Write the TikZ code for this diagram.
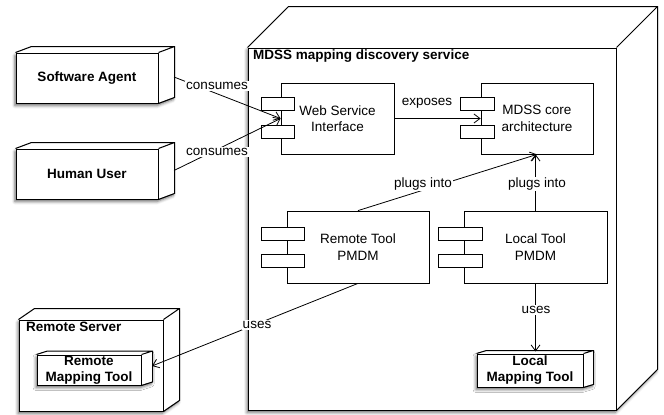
\documentclass[tikz,border=0pt]{standalone}
\usepackage{fontspec}
\setmainfont{Liberation Sans}
\usetikzlibrary{arrows.meta,shadows.blur,calc}

\tikzset{
  every node/.style={font=\fontsize{13.5}{16.5}\selectfont},
  cubefront/.style={draw, fill=white, line width=1pt, align=center, inner sep=0pt,
    font=\bfseries\fontsize{13.5}{16}\selectfont},
  cubeline/.style={line width=1pt, line join=miter},
  comp/.style={draw, fill=white, line width=0.8pt, align=center, inner sep=0pt},
  port/.style={draw, fill=white, line width=0.8pt, inner sep=0pt},
  lbl/.style={fill=white, inner sep=1pt},
  ttl/.style={anchor=west, inner sep=0pt, font=\bfseries\fontsize{13.5}{16}\selectfont},
  conn/.style={line width=0.8pt, -{Straight Barb[length=6pt,width=9pt]}},
  shad/.style={blur shadow={shadow xshift=-1pt, shadow yshift=-2.5pt,
    shadow blur radius=3pt, shadow opacity=60}}
}

% #1 name, #2 x, #3 y, #4 w, #5 h, #6 dx, #7 dy, #8 text
\newcommand\cubebox[8]{%
  \fill[white, shad] ({#2-#4/2},{#3+#5/2}) -- ({#2-#4/2},{#3-#5/2})
    -- ({#2-#4/2+#6},{#3-#5/2-#7}) -- ({#2+#4/2+#6},{#3-#5/2-#7})
    -- ({#2+#4/2+#6},{#3+#5/2-#7}) -- ({#2+#4/2},{#3+#5/2}) -- cycle;
  \node[cubefront, minimum width=#4pt, minimum height=#5pt] (#1) at (#2,#3) {#8};
  \draw[cubeline] (#1.north west) -- ++(#6,-#7) -- ([shift={(#6,-#7)}]#1.north east)
    -- ([shift={(#6,-#7)}]#1.south east) -- (#1.south east)
    (#1.north east) -- ++(#6,-#7);
}

\begin{document}
\begin{tikzpicture}[x=1pt, y=-1pt]
\useasboundingbox (0,0) rectangle (664,415);

% outer actors
\cubebox{sa}{87}{78}{142}{50}{16}{6}{Software Agent}
\cubebox{hu}{87}{174}{142}{50}{16}{6}{Human User}

% remote server
\cubebox{rs}{91}{365.5}{144}{91}{16}{11}{}
\node[ttl] (rstitle) at (26,327) {Remote Server};
\cubebox{rmt}{89}{370}{104}{30}{11}{3.5}{Remote\\Mapping Tool}

% MDSS service
\cubebox{mdss}{432}{229}{368}{362}{41}{41}{}
\node[ttl] (mdsstitle) at (253,56) {MDSS mapping discovery service};

% components
\node[comp, minimum width=113pt, minimum height=71pt] (wsi) at (337.5,118.5) {Web Service\\Interface};
\node[port, minimum width=33pt, minimum height=13pt] (wsip1) at (277.5,103.5) {};
\node[port, minimum width=33pt, minimum height=13pt] (wsip2) at (277.5,132) {};

\node[comp, minimum width=112pt, minimum height=71pt] (core) at (537,118.5) {MDSS core\\architecture};
\node[port, minimum width=34pt, minimum height=13pt] (corep1) at (477,103.5) {};
\node[port, minimum width=34pt, minimum height=13pt] (corep2) at (477,132) {};

\node[comp, minimum width=142pt, minimum height=72pt] (rt) at (358,247) {Remote Tool\\PMDM};
\node[port, minimum width=43pt, minimum height=13pt] (rtp1) at (282.5,233.5) {};
\node[port, minimum width=43pt, minimum height=13pt] (rtp2) at (282.5,261) {};

\node[comp, minimum width=143pt, minimum height=72pt] (lt) at (535.5,247) {Local Tool\\PMDM};
\node[port, minimum width=44pt, minimum height=13pt] (ltp1) at (460,233.5) {};
\node[port, minimum width=44pt, minimum height=13pt] (ltp2) at (460,261) {};

\cubebox{lmt}{530}{370.5}{106}{33}{10}{3}{Local\\Mapping Tool}

% connectors
\coordinate (saport) at (174,77);
\coordinate (huport) at (174,170.5);
\coordinate (rmtport) at (152,366);

\draw[conn] (saport) -- (wsi.west);
\draw[conn] (huport) -- (wsi.west);
\draw[conn] (wsi.east) -- (core.west);
\draw[conn] (rt.north) -- (core.south);
\draw[conn] (lt.north) -- (lt.north |- core.south);
\draw[conn] (rt.south) -- (rmtport);
\draw[conn] (lt.south) -- ([yshift=2pt]lt.south |- lmt.north);

% labels
\node[lbl] (l1) at (217,86) {consumes};
\node[lbl] (l2) at (217,152) {consumes};
\node[lbl] (l3) at (427,103) {exposes};
\node[lbl] (l4) at (423,184) {plugs into};
\node[lbl] (l5) at (537,184) {plugs into};
\node[lbl] (l6) at (257,325) {uses};
\node[lbl] (l7) at (536,310) {uses};
\end{tikzpicture}
\end{document}
